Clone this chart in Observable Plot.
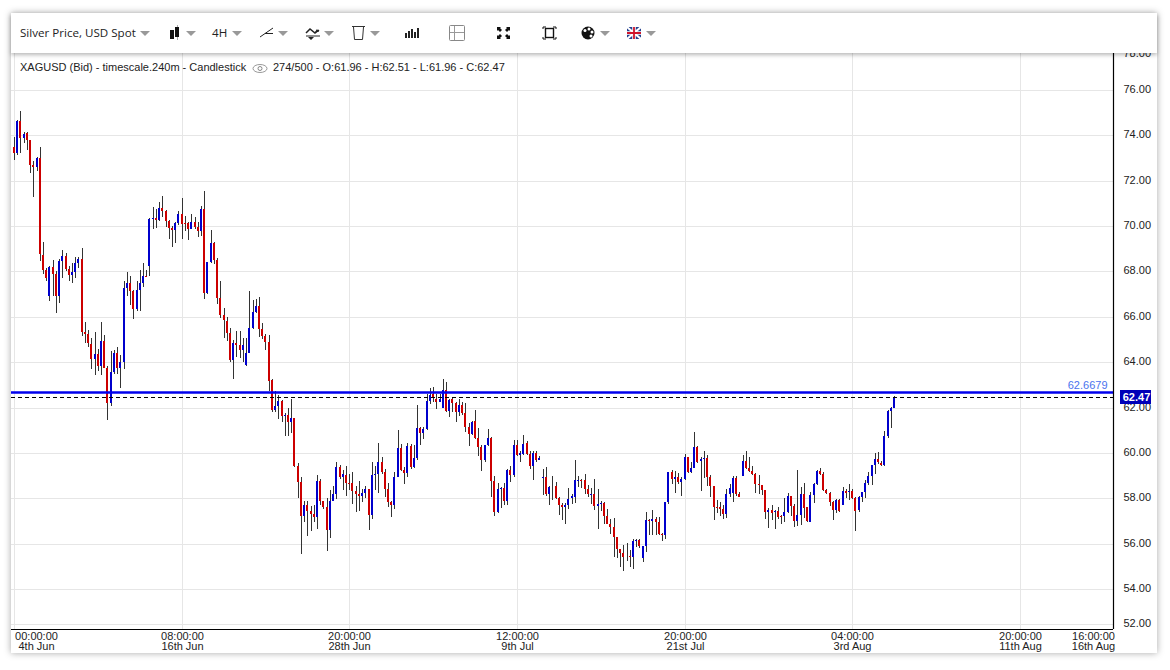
<!DOCTYPE html>
<html><head><meta charset="utf-8">
<script src="https://cdn.jsdelivr.net/npm/d3@7"></script>
<script src="https://cdn.jsdelivr.net/npm/@observablehq/plot@0.6"></script>
<style>
html,body{margin:0;padding:0;background:#fff;overflow:hidden}
#card{position:absolute;left:11px;top:13px;width:1146px;height:640px;background:#fff;box-shadow:0 0 7px rgba(0,0,0,.35)}
#chart{position:absolute;left:0;top:0}
#chart svg{display:block;background:transparent;overflow:visible}
#bar{position:absolute;left:11px;top:13px;width:1146px;height:40px;background:#fff;box-shadow:0 2px 4px rgba(0,0,0,.28);font:11.6px "Open Sans",sans-serif;color:#222;z-index:5}
#bar .t{position:absolute;top:12px;white-space:nowrap;line-height:16px}
#bar .c{position:absolute;top:18px;width:0;height:0;border-left:5px solid transparent;border-right:5px solid transparent;border-top:5px solid #999}
#bar svg{position:absolute;top:10px}
#head{position:absolute;left:20px;top:61px;font:11px "Liberation Sans",Arial,sans-serif;color:#222;z-index:4;white-space:nowrap}
#head span{position:absolute;top:0}
</style></head><body>
<div id="card"></div>
<div id="chart"></div>
<div id="bar">
<span class="t" style="left:9px">Silver Price, USD Spot</span><i class="c" style="left:129px"></i>
<svg style="left:158px" width="12" height="20"><path d="M8.500 2v15" stroke="#aaa"/><rect x="1" y="7" width="4" height="9" fill="#111"/><rect x="6" y="4" width="4" height="10" fill="#111"/></svg><i class="c" style="left:175px"></i>
<span class="t" style="left:201px">4H</span><i class="c" style="left:221px"></i>
<svg style="left:248px" width="16" height="20"><path d="M1 14 14 5M6 10.500h8" stroke="#222" fill="none"/></svg><i class="c" style="left:267px"></i>
<svg style="left:294px" width="16" height="20"><path d="M1 10 5 6l5 4 4-3" stroke="#222" stroke-width="1.500" fill="none"/><path d="M1 13h14" stroke="#222"/><path d="M3 14h6l-3 3zM10 9h4l-2-3z" fill="#222"/></svg><i class="c" style="left:313px"></i>
<svg style="left:340px" width="15" height="20"><path d="M1 3.500h13M2.500 4l1 12.500h8l1-12.500" stroke="#333" fill="none"/></svg><i class="c" style="left:359px"></i>
<svg style="left:393px" width="16" height="20"><path d="M2 15v-5M5 15V8M8 15V6M11 15v-6M14 15V5" stroke="#222" stroke-width="2"/></svg>
<svg style="left:438px" width="18" height="20"><rect x=".5" y="2.500" width="15" height="15" rx="1" fill="none" stroke="#888"/><path d="M5.500 3v14M1 9.500h14" stroke="#999"/></svg>
<svg style="left:485px" width="16" height="20"><path d="M1 4h4l-1 1 2 2-2 2-2-2-1 1zM14 4h-4l1 1-2 2 2 2 2-2 1 1zM1 16h4l-1-1 2-2-2-2-2 2-1-1zM14 16h-4l1-1-2-2 2-2 2 2 1-1z" fill="#111"/></svg>
<svg style="left:531px" width="16" height="20"><path d="M1 6V4h3M11 4h3v2M14 14v2h-3M4 16H1v-2" stroke="#111" fill="none"/><rect x="3.500" y="5.500" width="8" height="9" fill="none" stroke="#111" stroke-width="1.400"/></svg>
<svg style="left:570px" width="15" height="20"><circle cx="7" cy="10" r="6.500" fill="#111"/><circle cx="4" cy="7.500" r="1.500" fill="#fff"/><circle cx="8" cy="6" r="1.500" fill="#fff"/><circle cx="11" cy="9" r="1.500" fill="#fff"/><circle cx="10" cy="13" r="1.500" fill="#fff"/></svg><i class="c" style="left:589px"></i>
<svg style="left:615px" width="16" height="20"><rect x="1" y="4" width="14" height="12" fill="#24408e"/><path d="M1 4 15 16M15 4 1 16" stroke="#fff" stroke-width="2.200"/><path d="M8 4v12M1 10h14" stroke="#fff" stroke-width="3.500"/><path d="M8 4v12M1 10h14" stroke="#cf142b" stroke-width="1.800"/></svg><i class="c" style="left:635px"></i>
</div>
<div id="head"><span style="left:0">XAGUSD (Bid) - timescale.240m - Candlestick</span>
<svg style="position:absolute;left:232px;top:2px" width="17" height="11"><ellipse cx="8" cy="5.500" rx="7" ry="4" fill="none" stroke="#999"/><circle cx="8" cy="5.500" r="2" fill="none" stroke="#888"/></svg>
<span style="left:253px">274/500 - O:61.96 - H:62.51 - L:61.96 - C:62.47</span></div>
<script>
const bodyHigh=[
73.49,74.65,74.63,74.06,74.09,73.80,72.70,73.00,73.00,68.73,
68.07,68.20,68.20,67.91,68.47,68.69,68.69,68.12,67.98,68.38,
68.56,68.56,65.31,65.25,64.81,64.37,64.37,64.95,64.95,63.76,
63.58,64.42,64.42,64.02,67.28,67.50,67.50,67.15,67.19,67.50,
67.81,67.81,70.32,70.36,70.36,70.80,70.80,70.67,70.23,69.92,
70.14,70.54,70.54,70.14,70.14,70.18,70.18,69.96,70.76,70.76,
68.42,69.26,69.26,68.51,66.84,66.09,65.82,65.30,64.86,64.86,
64.77,64.77,64.42,65.52,66.22,66.49,66.49,65.47,65.17,64.90,
63.23,62.08,62.30,62.30,61.66,61.66,61.53,61.53,59.41,58.72,
57.69,57.69,57.43,57.31,58.75,58.75,57.87,57.60,57.87,58.18,
59.37,59.37,59.06,59.01,58.66,58.66,58.31,58.18,58.22,58.40,
58.40,59.01,59.06,59.59,59.59,59.15,58.40,57.82,58.93,60.21,
60.21,59.23,60.29,60.29,59.76,61.09,61.09,61.04,62.28,62.54,
62.62,62.37,62.37,62.76,62.76,62.32,62.37,62.19,62.10,62.10,
61.75,61.13,61.35,61.40,60.65,60.25,60.34,60.65,60.68,58.75,
58.40,58.44,58.44,59.23,59.23,60.34,60.34,59.99,60.38,60.43,
59.94,59.99,59.99,59.76,58.93,58.93,58.48,58.51,58.53,58.00,
57.69,57.69,57.96,58.09,58.79,58.79,58.82,58.79,58.40,58.18,
58.18,57.73,57.78,57.79,57.21,56.85,56.72,56.28,55.75,55.57,
55.43,55.44,56.10,56.15,56.15,55.88,57.03,57.03,57.07,57.07,
56.94,56.41,57.82,59.15,59.15,58.93,58.93,58.84,59.81,59.81,
59.32,60.25,60.28,59.72,59.77,59.77,58.93,58.53,57.60,57.60,
57.51,58.18,58.44,58.88,58.91,58.18,59.63,59.63,59.32,59.19,
59.06,58.62,58.57,58.35,57.47,57.47,57.43,57.43,57.21,57.38,
58.09,58.09,57.65,57.25,58.18,58.18,57.60,58.13,58.62,59.19,
59.19,59.06,58.35,58.22,57.82,57.91,57.91,58.31,58.31,58.31,
58.31,58.03,58.04,58.27,58.66,58.97,59.46,59.72,59.72,59.54,
60.73,61.84,61.97,62.47];
const bodyLow=[
73.24,73.24,73.88,73.88,73.80,72.70,72.62,72.62,68.79,68.07,
67.73,66.90,67.91,66.94,66.94,68.47,68.12,67.85,67.85,67.98,
68.38,65.31,65.24,64.86,64.15,64.15,63.82,63.82,63.76,62.19,
62.19,63.58,63.76,63.76,64.02,67.28,67.15,66.35,66.35,67.19,
67.50,67.76,68.25,70.32,70.27,70.27,70.67,70.23,69.92,69.83,
69.83,70.14,70.10,70.11,69.88,69.88,69.96,69.79,69.79,67.06,
67.06,68.42,68.51,66.84,66.09,65.87,65.30,64.10,64.10,64.77,
64.55,64.55,63.89,64.42,65.52,66.22,65.47,65.17,64.90,63.18,
61.91,61.91,62.08,61.63,61.63,61.37,61.37,59.41,58.72,57.22,
57.22,57.44,57.31,57.18,57.18,57.87,57.60,56.59,56.59,57.87,
58.18,58.93,58.93,58.66,58.63,58.31,58.18,58.09,58.09,58.22,
57.25,57.25,59.01,59.06,59.15,58.40,57.82,57.69,57.69,58.93,
59.23,59.10,59.10,59.37,59.37,59.76,60.87,60.87,61.04,62.28,
62.41,62.24,62.24,61.97,61.84,61.84,62.19,61.79,61.79,61.75,
61.13,60.82,60.82,60.65,60.25,59.68,59.68,60.34,58.75,57.38,
57.38,58.40,57.87,57.87,59.01,59.01,59.90,59.90,59.94,59.94,
59.41,59.41,59.68,59.68,58.90,58.18,58.18,58.48,58.00,57.69,
57.60,57.60,57.69,58.00,58.04,58.77,58.75,58.40,58.18,58.13,
57.65,57.65,57.73,57.21,56.85,56.72,56.28,55.75,55.57,55.40,
55.40,55.40,55.43,56.10,55.88,55.35,55.88,56.99,56.99,56.94,
56.41,56.37,56.37,57.82,58.84,58.84,58.71,58.71,58.84,59.15,
59.15,59.32,59.59,59.63,59.72,58.93,58.53,57.60,57.57,57.51,
57.29,57.29,58.18,58.22,58.18,58.04,58.97,59.32,59.19,59.06,
58.62,58.57,58.35,57.38,57.38,57.34,57.38,57.16,57.16,57.21,
57.38,57.65,56.99,56.99,57.25,57.56,56.99,56.96,58.13,58.62,
59.06,58.35,58.22,57.82,57.47,57.47,57.43,57.69,58.22,58.27,
58.00,57.43,57.47,58.04,58.27,58.66,58.97,59.46,59.59,59.46,
59.46,60.73,61.84,61.96];
const highs=[
73.94,74.67,75.07,74.15,74.15,73.80,72.87,73.03,73.49,69.30,
68.14,68.25,68.51,68.01,68.54,68.95,68.81,68.25,68.37,68.63,
68.63,69.04,65.78,65.43,65.08,65.31,64.60,65.78,65.21,63.82,
64.50,64.53,64.68,64.33,67.59,67.98,67.81,67.19,67.59,68.07,
68.38,68.07,70.36,70.84,70.76,71.06,71.33,70.71,70.27,70.01,
70.18,70.67,71.24,70.45,70.18,70.54,70.40,70.18,70.89,71.55,
68.42,69.83,69.30,68.60,67.59,66.40,66.00,65.52,65.00,65.39,
65.39,65.08,65.08,67.15,66.75,66.79,66.88,65.74,65.25,65.21,
63.27,62.74,62.57,62.35,61.76,61.98,62.37,61.53,59.57,58.93,
57.87,57.87,57.65,57.69,59.01,58.84,57.87,58.00,58.35,58.53,
59.59,59.46,59.23,59.41,59.06,59.15,58.53,58.75,58.40,58.53,
58.40,59.59,59.41,60.43,59.81,59.28,58.66,57.87,59.15,61.00,
60.38,59.37,60.43,60.38,60.34,62.10,61.13,61.13,62.59,62.85,
62.90,62.59,62.59,63.25,63.12,62.37,62.41,62.24,62.37,62.24,
62.19,61.31,61.40,61.88,61.09,60.34,60.34,61.04,60.71,58.97,
58.66,58.48,58.66,59.28,59.41,60.56,60.56,60.07,60.78,60.51,
60.07,60.07,60.07,59.85,59.31,59.37,58.53,58.97,58.71,58.04,
57.78,57.78,58.44,58.18,59.68,58.97,58.87,59.06,58.57,58.44,
58.84,58.40,57.87,57.85,57.51,57.07,57.12,56.28,55.75,55.93,
56.02,55.71,56.19,56.19,56.19,55.88,57.38,57.07,57.47,57.16,
57.16,56.46,57.82,59.15,59.24,59.19,59.10,58.93,59.97,59.81,
59.59,60.91,60.31,59.81,60.07,59.90,59.01,58.53,57.91,57.82,
57.69,58.40,58.62,58.97,58.97,58.27,59.90,60.07,59.81,59.41,
59.10,59.01,58.57,58.35,57.56,57.69,57.47,57.60,57.25,58.00,
58.22,58.09,57.73,59.24,58.49,58.66,57.60,58.27,58.66,59.24,
59.32,59.15,58.40,58.27,57.87,57.96,57.96,58.49,58.40,58.62,
58.40,58.04,58.09,58.27,58.79,59.15,59.46,59.98,60.03,59.63,
60.96,61.88,62.01,62.51];
const lows=[
72.91,73.13,73.24,73.65,73.35,72.36,71.30,72.44,68.48,67.87,
67.56,66.68,66.94,66.19,66.59,67.73,68.04,67.59,67.47,67.73,
68.14,65.14,64.84,64.67,63.70,63.42,63.60,63.42,63.73,61.47,
62.05,63.46,63.49,62.85,63.68,66.94,66.50,65.91,66.27,66.24,
67.32,67.76,67.81,69.88,69.92,70.23,70.40,69.96,69.44,69.08,
69.26,70.05,69.44,69.79,69.39,69.88,69.88,69.52,69.57,66.79,
67.01,68.38,68.34,66.57,65.96,65.08,64.95,64.02,63.27,64.24,
64.20,64.02,63.85,64.42,65.47,66.18,65.12,65.03,64.55,62.74,
61.82,61.82,61.51,61.37,60.75,60.74,60.88,59.38,58.00,55.54,
56.96,56.34,56.56,56.96,56.65,57.69,57.51,55.67,56.25,57.87,
57.96,58.85,58.35,58.09,58.35,57.73,57.38,57.43,57.82,58.00,
56.59,57.07,58.35,58.22,59.06,58.04,57.60,57.16,57.51,58.93,
59.19,58.62,58.93,59.28,59.32,59.68,60.34,60.60,61.00,62.15,
62.24,61.93,62.24,61.97,61.79,61.57,61.79,61.35,61.62,61.66,
60.91,60.29,60.78,60.60,59.85,59.19,59.59,60.29,58.04,57.21,
57.34,57.56,57.69,57.69,58.71,58.93,59.85,59.59,59.90,59.90,
59.28,58.79,59.59,59.68,58.13,58.09,57.69,57.91,57.96,57.25,
57.03,56.85,57.51,57.73,57.78,58.49,58.44,58.18,58.04,57.73,
57.47,56.63,57.43,56.85,56.85,56.41,55.41,55.35,54.96,54.78,
55.22,54.96,54.87,55.84,55.79,55.18,55.62,56.37,56.37,56.37,
56.37,56.10,56.19,57.73,58.62,58.22,58.62,58.09,58.79,59.10,
59.10,59.32,59.54,58.31,58.88,58.53,58.04,57.03,57.34,57.21,
57.07,57.12,58.04,57.82,58.09,58.04,58.97,59.28,59.15,59.01,
58.22,58.18,58.13,57.07,56.68,57.03,56.63,57.07,56.85,56.94,
57.34,57.21,56.72,56.77,56.81,57.12,56.94,56.94,57.78,58.57,
59.01,58.31,58.18,57.65,57.03,57.34,57.38,57.69,58.00,57.91,
57.96,56.54,57.38,57.82,58.00,58.57,58.57,59.06,59.50,59.41,
59.41,60.65,61.09,61.96];
// u = close above open (blue), d = close below open (red)
const direction=[
"dududddudd","dudduudduu","uddddududd","uuduuudduu","uduududddd",
"uuddduddud","uuddddddud","duuuuudddd","duudududdd","uddduddduu",
"ududdddduu","duuudddduu","dduduuduuu","dduududdud","dduddduudd",
"uudududuud","duduuduudd","duuuuudddu","duuddddddd","uduuduudud",
"dduududuud","uuduuddddd","duuudduddd","ddddududdu","udduudduuu",
"dddddududu","dduuuuuudd","uuuu"].join("");

const priceTicks=[54,56,58,60,62,64,66,68,70,72,74,76];
const tickIndex=[52,104,156,208,260,312];
const tickText=["08:00:00\n16th Jun","20:00:00\n28th Jun","12:00:00\n9th Jul","20:00:00\n21st Jul","04:00:00\n3rd Aug","20:00:00\n11th Aug"];
const firstTick={i:0,text:"00:00:00\n4th Jun"};
const lastTick={i:341,text:"16:00:00\n16th Aug"};
const lineLevel=62.6679, lastPrice=62.47;

const candles=highs.map((h,i)=>({i,high:h,low:lows[i],top:bodyHigh[i],bot:bodyLow[i],up:direction[i]==="u"}));
const F='"Liberation Sans",Arial,sans-serif';
const axisStart=-0.93, axisEnd=340.9, axisFloor=52.24;
const grid="#e6e6e6", ink="#222";

const chart=Plot.plot({
  width:1170,height:670,marginLeft:11,marginRight:57,marginTop:53,marginBottom:41,
  style:{background:"transparent",fontFamily:F},
  x:{domain:[axisStart,axisEnd],axis:null,round:true},
  y:{domain:[axisFloor,77.63],axis:null,round:true},
  marks:[
    Plot.ruleY(priceTicks,{stroke:grid}),
    Plot.ruleY([52],{stroke:grid,dy:-10}),
    Plot.ruleX([0,...tickIndex],{stroke:grid}),
    Plot.ruleX(candles,{x:"i",y1:"low",y2:"high",stroke:"#333",strokeWidth:1}),
    Plot.ruleX(candles,{x:"i",y1:"bot",y2:"top",stroke:d=>d.up?"#0000cc":"#cc0000",strokeWidth:2,dx:-0.5,strokeLinecap:"butt"}),
    Plot.ruleY([lastPrice],{stroke:"#000",strokeDasharray:"4,3"}),
    Plot.ruleY([lineLevel],{stroke:"#0000ee",strokeWidth:2.5}),
    Plot.text([lineLevel],{y:d=>d,text:d=>d.toFixed(4),frameAnchor:"right",textAnchor:"end",dx:-6,dy:-7,fill:"#4a72ee",fontSize:11}),
    Plot.ruleX([axisEnd],{stroke:"#000",strokeWidth:1.2}),
    Plot.ruleY([axisFloor],{stroke:"#000",strokeWidth:1.2}),
    Plot.text(priceTicks,{y:d=>d,text:d=>d.toFixed(2),frameAnchor:"right",textAnchor:"start",dx:10,dy:-1,fill:ink,fontSize:11}),
    Plot.text([78],{y:d=>d,text:d=>d.toFixed(2),frameAnchor:"right",textAnchor:"start",dx:10,dy:8,fill:ink,fontSize:11}),
    Plot.text([52],{y:d=>d,text:d=>d.toFixed(2),frameAnchor:"right",textAnchor:"start",dx:10,dy:-11,fill:ink,fontSize:11}),
    Plot.rect([lastPrice],{x1:343.1,x2:352.7,y1:d=>d-0.29,y2:d=>d+0.29,fill:"#0000b8"}),
    Plot.text([lastPrice],{x:347.9,y:d=>d,text:d=>d.toFixed(2),fill:"#fff",fontWeight:"bold",fontSize:11}),
    Plot.text(tickIndex,{x:d=>d,text:(d,i)=>tickText[i],frameAnchor:"bottom",lineAnchor:"top",dy:3,lineHeight:0.92,fill:ink,fontSize:11}),
    Plot.text([firstTick],{x:"i",text:"text",frameAnchor:"bottom",lineAnchor:"top",dx:22,dy:3,lineHeight:0.92,fill:ink,fontSize:11}),
    Plot.text([lastTick],{x:"i",text:"text",frameAnchor:"bottom",lineAnchor:"top",dx:-20,dy:3,lineHeight:0.92,fill:ink,fontSize:11})
  ]
});
document.getElementById("chart").appendChild(chart);
</script>
</body></html>
